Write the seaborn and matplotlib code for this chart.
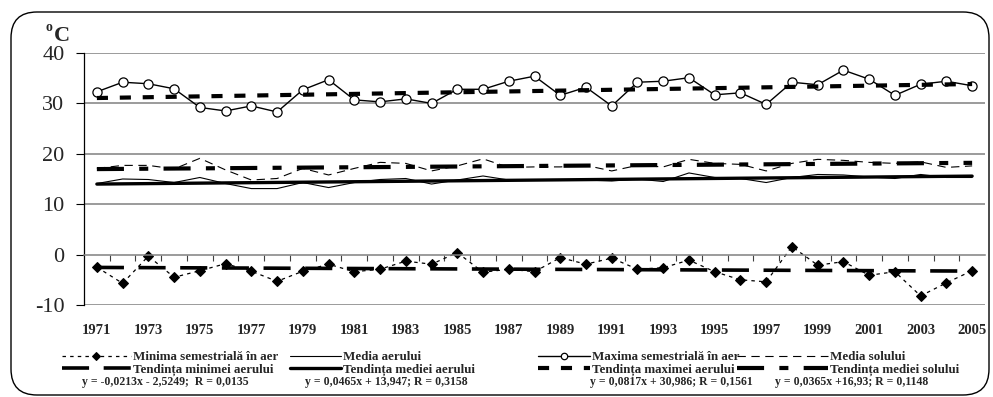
import matplotlib
matplotlib.use("Agg")
import matplotlib.pyplot as plt
import seaborn as sns
import pandas as pd
from matplotlib.patches import FancyBboxPatch

# Semester temperatures, 1971-2005
years = list(range(1971, 2006))
minima_aer = [-2.5, -5.7, -0.3, -4.5, -3.2, -1.8, -3.3, -5.3, -3.3, -1.9,
              -3.4, -2.9, -1.3, -1.9, 0.4, -3.5, -2.9, -3.4, -0.6, -1.9,
              -0.7, -2.9, -2.6, -1.1, -3.4, -5.0, -5.4, 1.6, -2.1, -1.4,
              -4.1, -3.4, -8.2, -5.6, -3.2]
media_aer = [14.1, 15.0, 14.9, 14.3, 15.3, 14.1, 13.1, 13.1, 14.3, 13.3,
             14.3, 14.9, 15.1, 14.0, 14.8, 15.6, 14.8, 14.8, 14.8, 14.8,
             14.6, 15.0, 14.5, 16.2, 15.3, 15.1, 14.3, 15.3, 15.9, 15.8,
             15.4, 15.1, 15.9, 15.3, 15.3]
maxima_aer = [32.3, 34.2, 33.9, 32.9, 29.2, 28.5, 29.5, 28.3, 32.7, 34.7,
              30.7, 30.3, 30.9, 30.0, 32.8, 32.8, 34.4, 35.4, 31.6, 33.2,
              29.5, 34.2, 34.4, 35.1, 31.7, 32.1, 29.8, 34.2, 33.7, 36.6,
              34.8, 31.6, 33.8, 34.4, 33.5]
media_sol = [17.1, 17.7, 17.7, 17.0, 19.1, 16.8, 14.8, 15.1, 17.1, 15.8,
             17.1, 18.3, 18.1, 16.6, 17.6, 19.0, 17.3, 17.4, 17.4, 17.7,
             16.6, 17.7, 17.4, 18.9, 18.1, 17.9, 16.6, 18.1, 18.9, 18.7,
             18.3, 18.1, 18.4, 17.3, 17.6]

# Linear trend coefficients (x = 1..35) and their equation labels
trend_min = (-0.0213, -2.5249, "y = -0,0213x - 2,5249;  R = 0,0135")
trend_med_aer = (0.0465, 13.947, "y = 0,0465x + 13,947; R = 0,3158")
trend_max = (0.0817, 30.986, "y = 0,0817x + 30,986; R = 0,1561")
trend_med_sol = (0.0365, 16.93, "y = 0,0365x +16,93; R = 0,1148")

legend_rows = [
    ("Minima semestrială în aer", "Tendința minimei aerului"),
    ("Media aerului", "Tendința mediei aerului"),
    ("Maxima semestrială în aer", "Tendința maximei aerului"),
    ("Media solului", "Tendința mediei solului"),
]

df = pd.DataFrame({"an": years, "minima": minima_aer, "media_aer": media_aer,
                   "maxima": maxima_aer, "media_sol": media_sol})
idx = pd.Series(range(1, len(years) + 1))
for name, (a, b, _) in {"t_min": trend_min, "t_med_aer": trend_med_aer,
                        "t_max": trend_max, "t_med_sol": trend_med_sol}.items():
    df[name] = a * idx + b

sns.set_style("white")
plt.rcParams["font.family"] = ["Liberation Serif", "DejaVu Serif"]
plt.rcParams["lines.scale_dashes"] = False

fig = plt.figure(figsize=(9.93, 3.97), dpi=100)
ax = fig.add_axes([84 / 993, 1 - 305 / 397, 901 / 993, 252 / 397])

k = dict(ax=ax, color="black", legend=False)
sns.lineplot(data=df, x="an", y="minima", lw=0.9, linestyle=(0, (2.5, 3.0)),
             marker="D", markersize=5.2, markeredgecolor="black",
             markerfacecolor="black", **k)
h_min = ax.lines[-1]
sns.lineplot(data=df, x="an", y="media_aer", lw=0.8, **k)
h_med_aer = ax.lines[-1]
sns.lineplot(data=df, x="an", y="maxima", lw=1.0, marker="o", markersize=6.6,
             markerfacecolor="white", markeredgecolor="black",
             markeredgewidth=0.9, **k)
h_max = ax.lines[-1]
sns.lineplot(data=df, x="an", y="media_sol", lw=0.8, linestyle=(0, (6.0, 4.0)), **k)
h_med_sol = ax.lines[-1]

sns.lineplot(data=df, x="an", y="t_min", lw=2.6, linestyle=(0, (19.5, 10.5)), **k)
h_tmin = ax.lines[-1]
sns.lineplot(data=df, x="an", y="t_med_aer", lw=2.4, **k)
h_tmed_aer = ax.lines[-1]
sns.lineplot(data=df, x="an", y="t_max", lw=3.0, linestyle=(0, (8.0, 8.5)), **k)
h_tmax = ax.lines[-1]
sns.lineplot(data=df, x="an", y="t_med_sol", lw=3.0,
             linestyle=(0, (19.5, 11.0, 6.5, 11.0)), **k)
h_tmed_sol = ax.lines[-1]

# axes, grid and ticks
ax.set_xlim(1970.5, 2005.5)
ax.set_ylim(-10, 40)
ax.set_xlabel("")
ax.set_ylabel("")
ax.set_yticks([-10, 0, 10, 20, 30, 40])
ax.set_yticklabels(["-10", "0", "10", "20", "30", "40"], fontsize=16)
for yv in [-10, 10, 20, 30, 40]:
    ax.axhline(yv, color="#808080", lw=1.1, zorder=0)
ax.tick_params(axis="y", direction="out", length=6, width=0.8, color="black",
               pad=8, left=True)
for s in ["top", "right"]:
    ax.spines[s].set_visible(False)
ax.spines["left"].set_color("black")
ax.spines["left"].set_linewidth(0.9)
ax.spines["bottom"].set_position(("data", 0))
ax.spines["bottom"].set_color("#808080")
ax.spines["bottom"].set_linewidth(1.1)
ax.set_xticks([])
ax.set_xticks([y + 0.5 for y in years[:-1]], minor=True)
ax.tick_params(axis="x", which="minor", direction="out", length=4, width=0.8,
               color="#404040", bottom=True, labelbottom=False)

sec = ax.secondary_xaxis(0)
sec.set_xticks(years[::2])
sec.set_xticklabels([str(y) for y in years[::2]], fontsize=10.5,
                    fontweight="bold")
sec.tick_params(length=0, pad=14)
sec.spines["bottom"].set_visible(False)

# unit label
fig.text(45 / 993, 1 - 21 / 397, "o", fontsize=10, fontweight="bold",
         va="top", ha="left")
fig.text(54 / 993, 1 - 26 / 397, "C", fontsize=16, fontweight="bold",
         va="top", ha="left")

# legend: one block per column, each with its own sample length
leg_font = {"family": "Liberation Serif", "weight": "bold", "size": 9.4}
col_handles = [(h_min, h_tmin), (h_med_aer, h_tmed_aer),
               (h_max, h_tmax), (h_med_sol, h_tmed_sol)]
col_x = [62, 290, 538, 737]
col_len = [5.28, 3.9, 3.98, 6.97]
for hs, labs, x0, hl in zip(col_handles, legend_rows, col_x, col_len):
    fig.legend(list(hs), list(labs), loc="upper left",
               bbox_to_anchor=(x0 / 993, 1 - 351 / 397), frameon=False,
               prop=leg_font, handlelength=hl, handletextpad=0.15,
               labelspacing=0.05, borderpad=0, borderaxespad=0,
               markerscale=0.7)

for xpx, (_, _, eq) in zip([82, 305, 590, 775],
                           [trend_min, trend_med_aer, trend_max, trend_med_sol]):
    fig.text(xpx / 993, 1 - 382 / 397, eq, fontsize=8.5, fontweight="bold",
             va="center", ha="left")

# rounded frame around the chart
frame = FancyBboxPatch((11, 2), 978, 383,
                       boxstyle="round,pad=0,rounding_size=26",
                       fill=False, edgecolor="black", linewidth=1.0,
                       transform=None)
fig.add_artist(frame)

fig.savefig("out.png", dpi=100)
